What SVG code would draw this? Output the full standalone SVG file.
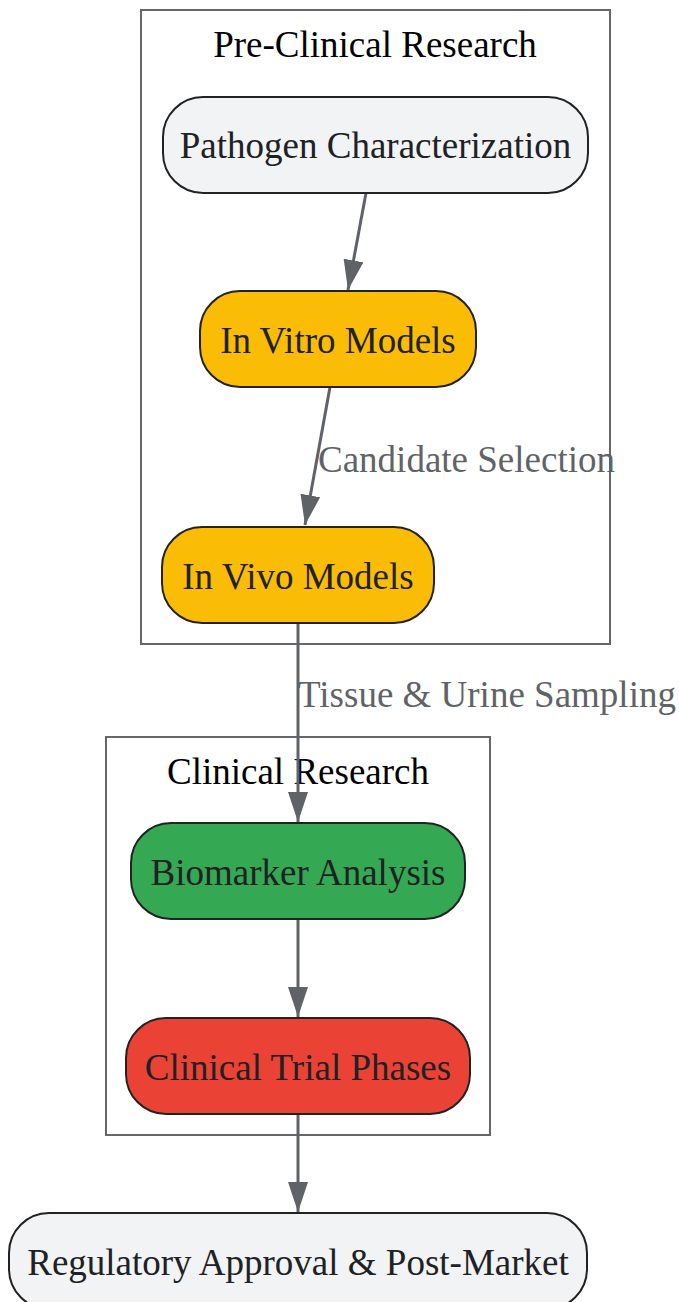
<svg xmlns="http://www.w3.org/2000/svg" width="679" height="1302" viewBox="0 0 679 1302">
<style>
.cluster{fill:#ffffff;stroke:#666666;stroke-width:2}
.ctitle{font-family:"Liberation Serif",serif;font-size:37px;fill:#000000;text-anchor:middle}
.node{stroke:#222222;stroke-width:2}
.ntext{font-family:"Liberation Serif",serif;font-size:37px;fill:#202124;text-anchor:middle}
.edge{stroke:#5f6368;stroke-width:3;fill:none}
.elabel{font-family:"Liberation Serif",serif;font-size:37px;fill:#5f6368}
</style>
<defs>
<marker id="ah" viewBox="0 0 30 20" refX="30" refY="10" markerWidth="30" markerHeight="20" markerUnits="userSpaceOnUse" orient="auto">
<path d="M0,0 L30,10 L0,20 Z" fill="#5f6368"/>
</marker>
</defs>
<g id="cluster-preclinical">
<rect class="cluster" x="141" y="10" width="469" height="634"/>
<text class="ctitle" x="375" y="57">Pre-Clinical Research</text>
</g>
<g id="cluster-clinical">
<rect class="cluster" x="106" y="737" width="384" height="398"/>
<text class="ctitle" x="298" y="784">Clinical Research</text>
</g>
<g id="connectors">
<path class="edge" d="M366,193 L348,290" marker-end="url(#ah)"/>
<path class="edge" d="M330,387 L305,525" marker-end="url(#ah)"/>
<path class="edge" d="M298,623 L298,822" marker-end="url(#ah)"/>
<path class="edge" d="M298,919 L298,1017" marker-end="url(#ah)"/>
<path class="edge" d="M298,1114 L298,1212" marker-end="url(#ah)"/>
<text class="elabel" x="318" y="472">Candidate Selection</text>
<text class="elabel" x="298" y="707">Tissue &amp; Urine Sampling</text>
</g>
<g id="node-pathogen">
<rect class="node" x="163" y="97" width="425" height="96" rx="40" fill="#f1f3f4"/>
<text class="ntext" x="375.5" y="158">Pathogen Characterization</text>
</g>
<g id="node-invitro">
<rect class="node" x="200" y="291" width="276" height="96" rx="40" fill="#fbbc05"/>
<text class="ntext" x="338" y="353">In Vitro Models</text>
</g>
<g id="node-invivo">
<rect class="node" x="162" y="527" width="272" height="96" rx="40" fill="#fbbc05"/>
<text class="ntext" x="298" y="589">In Vivo Models</text>
</g>
<g id="node-biomarker">
<rect class="node" x="131" y="823" width="334" height="96" rx="40" fill="#34a853"/>
<text class="ntext" x="298" y="885">Biomarker Analysis</text>
</g>
<g id="node-clinicaltrial">
<rect class="node" x="126" y="1018" width="344" height="96" rx="40" fill="#ea4335"/>
<text class="ntext" x="298" y="1080">Clinical Trial Phases</text>
</g>
<g id="node-regulatory">
<rect class="node" x="9" y="1213" width="578" height="96" rx="40" fill="#f1f3f4"/>
<text class="ntext" x="298" y="1275">Regulatory Approval &amp; Post-Market</text>
</g>
</svg>
